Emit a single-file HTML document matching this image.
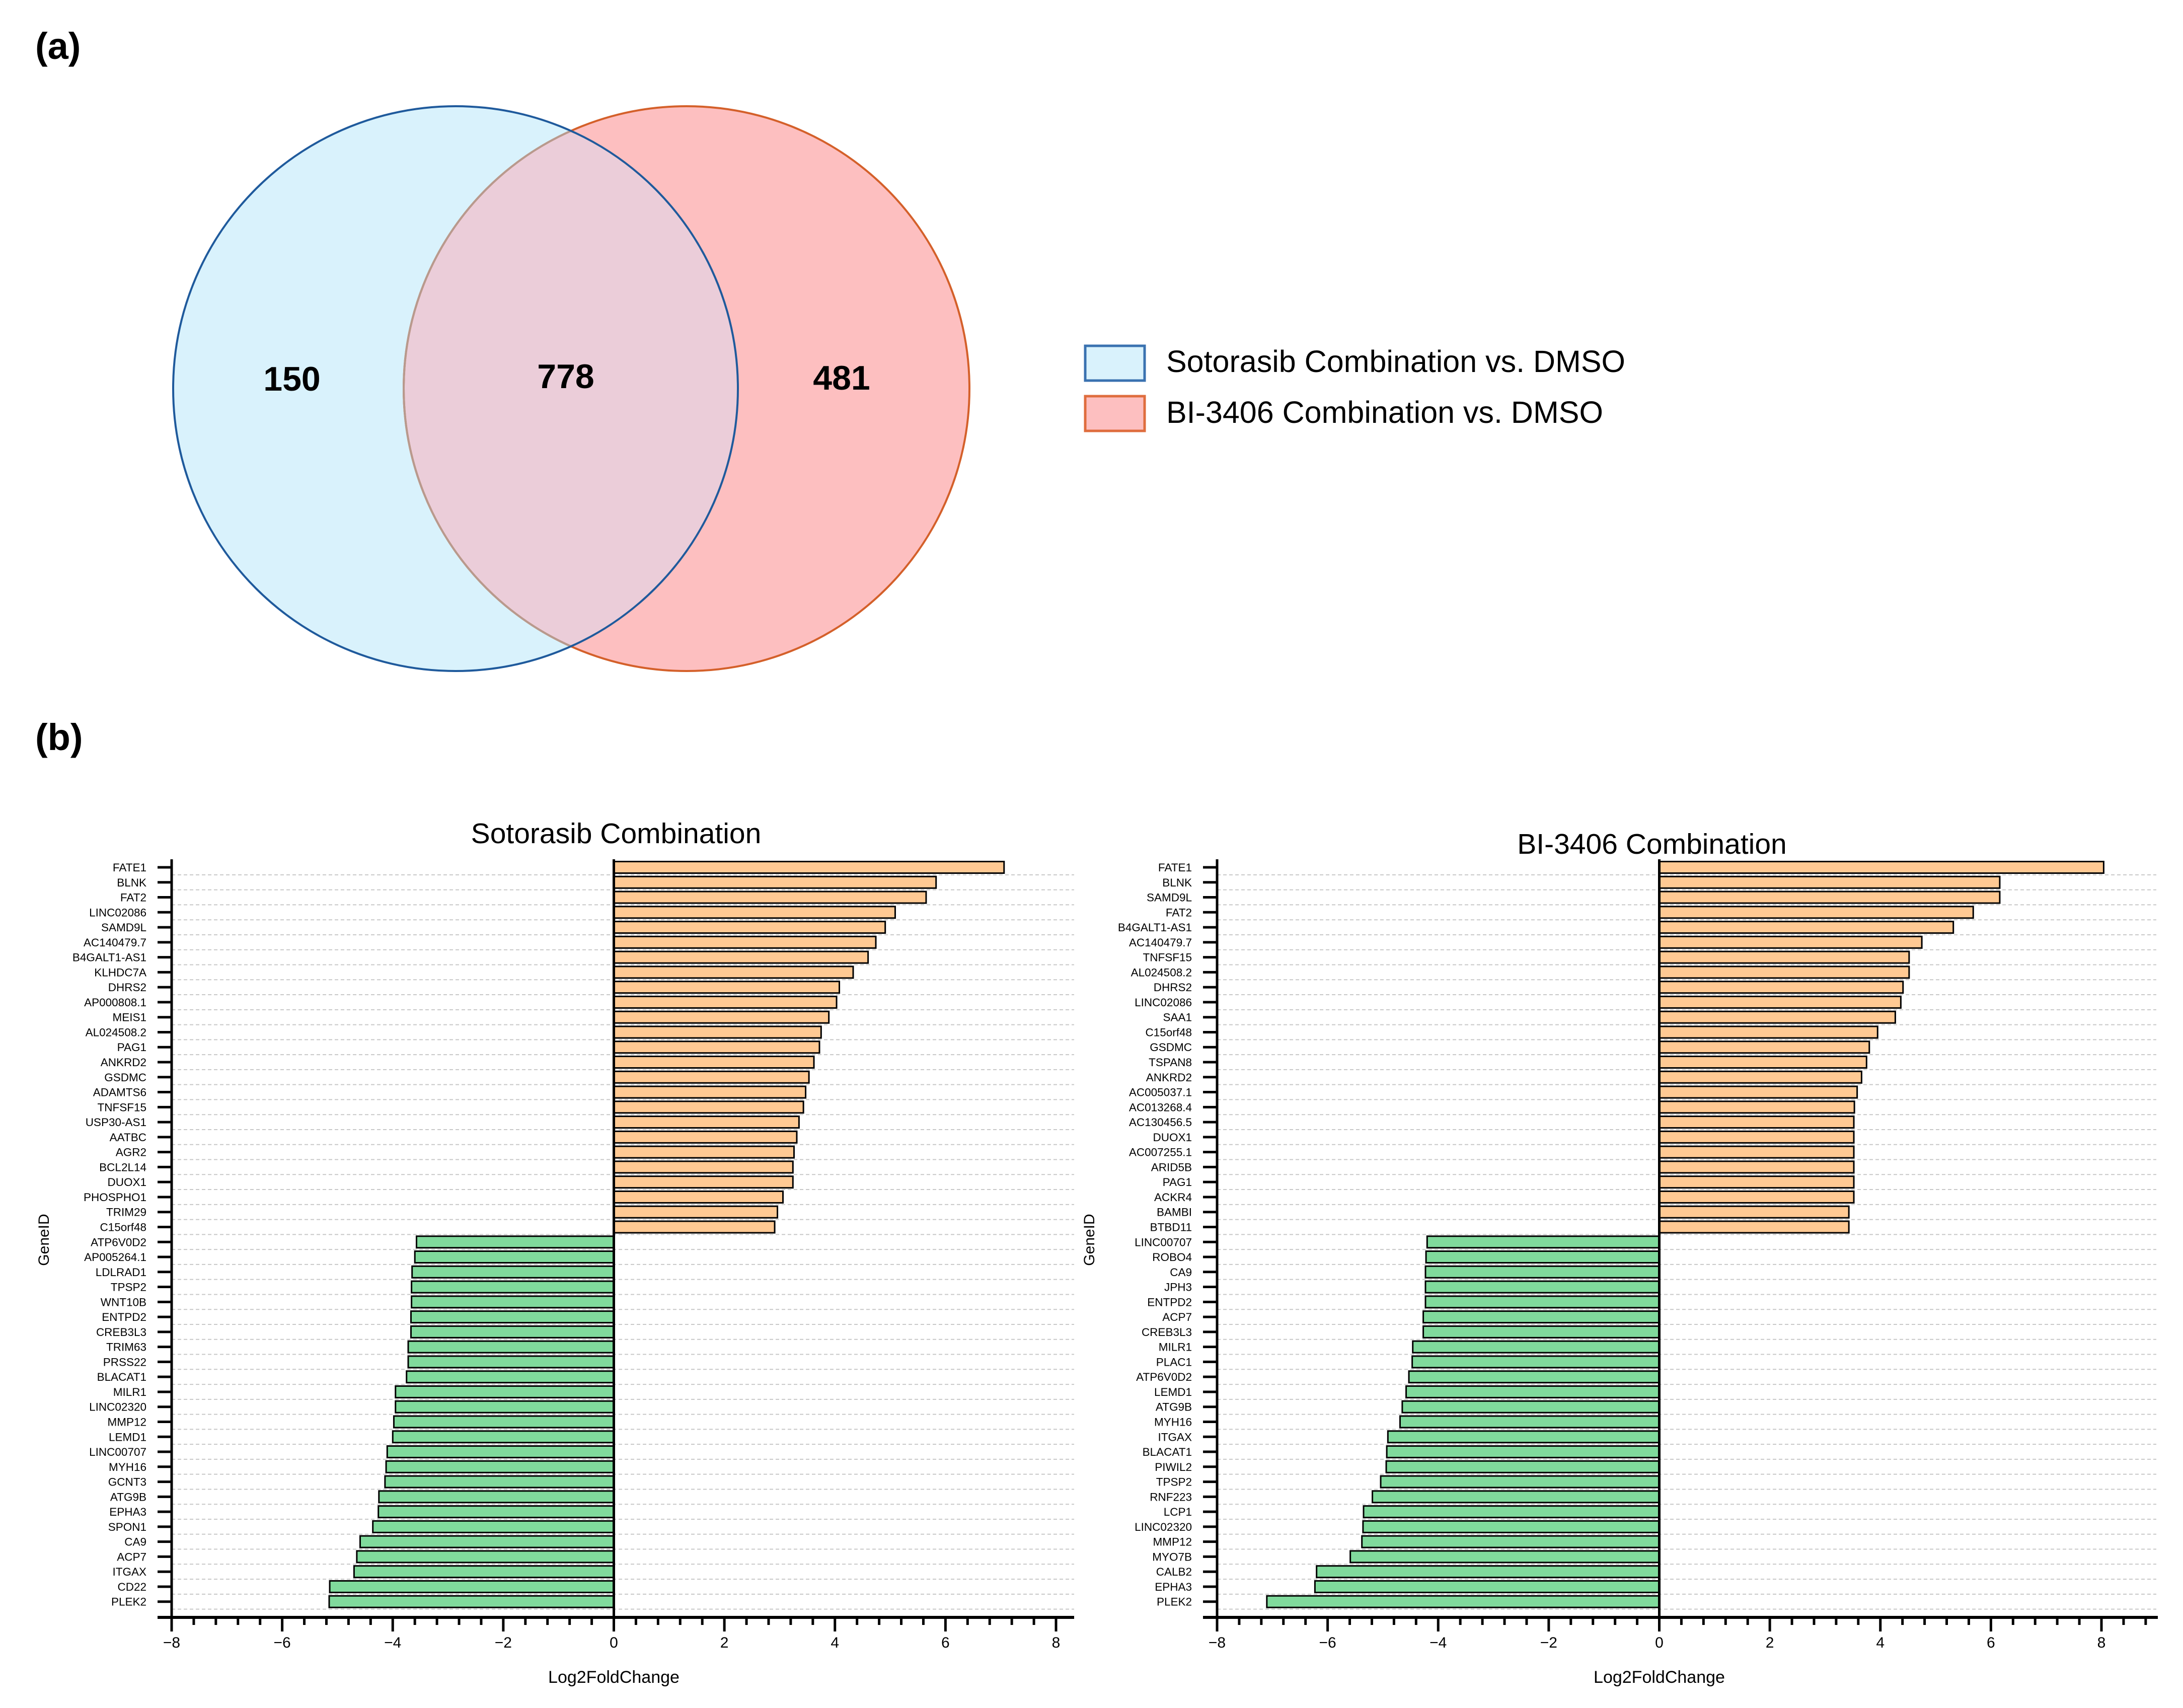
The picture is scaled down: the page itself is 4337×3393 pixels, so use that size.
<!DOCTYPE html>
<html><head><meta charset="utf-8"><style>
html,body{margin:0;padding:0;background:#fff;}
svg{display:block;font-family:"Liberation Sans",sans-serif;}
</style></head><body>
<svg id="fig" width="4337" height="3393" viewBox="0 0 4337 3393" xmlns="http://www.w3.org/2000/svg">
<text x="70" y="117" font-size="74" font-weight="bold">(a)</text>
<text x="70" y="1490" font-size="74" font-weight="bold">(b)</text>
<g>
<ellipse cx="905" cy="772" rx="561" ry="561" fill="#d9f2fc"/>
<ellipse cx="1364" cy="772" rx="562" ry="561" fill="#fdbfc0"/>
<clipPath id="cl"><ellipse cx="905" cy="772" rx="561" ry="561"/></clipPath>
<ellipse cx="1364" cy="772" rx="562" ry="561" fill="#ebcdd9" clip-path="url(#cl)"/>
<ellipse cx="1364" cy="772" rx="562" ry="561" fill="none" stroke="#d4602a" stroke-width="4"/>
<ellipse cx="1364" cy="772" rx="562" ry="561" fill="none" stroke="#b89a8e" stroke-width="4" clip-path="url(#cl)"/>
<ellipse cx="905" cy="772" rx="561" ry="561" fill="none" stroke="#1f5a9c" stroke-width="4"/>
<text x="580" y="776" font-size="68" font-weight="bold" text-anchor="middle">150</text>
<text x="1124" y="771" font-size="68" font-weight="bold" text-anchor="middle">778</text>
<text x="1672" y="774" font-size="68" font-weight="bold" text-anchor="middle">481</text>
</g>
<g>
<rect x="2156" y="687" width="118" height="69" fill="#d9f2fc" stroke="#3a72b0" stroke-width="5"/>
<text x="2317" y="739" font-size="61">Sotorasib Combination vs. DMSO</text>
<rect x="2156" y="787" width="118" height="69" fill="#fdbfc0" stroke="#df6d3e" stroke-width="5"/>
<text x="2317" y="840" font-size="61">BI-3406 Combination vs. DMSO</text>
</g>
<g id="chartL"></g>
<g id="chartR"></g>
</svg>
<script>
const sotoGenes = ["FATE1","BLNK","FAT2","LINC02086","SAMD9L","AC140479.7","B4GALT1-AS1","KLHDC7A","DHRS2","AP000808.1","MEIS1","AL024508.2","PAG1","ANKRD2","GSDMC","ADAMTS6","TNFSF15","USP30-AS1","AATBC","AGR2","BCL2L14","DUOX1","PHOSPHO1","TRIM29","C15orf48","ATP6V0D2","AP005264.1","LDLRAD1","TPSP2","WNT10B","ENTPD2","CREB3L3","TRIM63","PRSS22","BLACAT1","MILR1","LINC02320","MMP12","LEMD1","LINC00707","MYH16","GCNT3","ATG9B","EPHA3","SPON1","CA9","ACP7","ITGAX","CD22","PLEK2"];
const sotoValues = [7.06,5.83,5.65,5.09,4.91,4.74,4.60,4.33,4.08,4.03,3.89,3.75,3.72,3.62,3.53,3.47,3.43,3.35,3.31,3.26,3.24,3.24,3.06,2.96,2.91,-3.57,-3.60,-3.65,-3.66,-3.66,-3.67,-3.67,-3.72,-3.72,-3.75,-3.95,-3.95,-3.98,-4.00,-4.10,-4.12,-4.14,-4.25,-4.26,-4.36,-4.59,-4.65,-4.70,-5.14,-5.15];
const biGenes = ["FATE1","BLNK","SAMD9L","FAT2","B4GALT1-AS1","AC140479.7","TNFSF15","AL024508.2","DHRS2","LINC02086","SAA1","C15orf48","GSDMC","TSPAN8","ANKRD2","AC005037.1","AC013268.4","AC130456.5","DUOX1","AC007255.1","ARID5B","PAG1","ACKR4","BAMBI","BTBD11","LINC00707","ROBO4","CA9","JPH3","ENTPD2","ACP7","CREB3L3","MILR1","PLAC1","ATP6V0D2","LEMD1","ATG9B","MYH16","ITGAX","BLACAT1","PIWIL2","TPSP2","RNF223","LCP1","LINC02320","MMP12","MYO7B","CALB2","EPHA3","PLEK2"];
const biValues = [8.04,6.16,6.16,5.68,5.32,4.75,4.52,4.52,4.41,4.37,4.27,3.95,3.80,3.75,3.66,3.58,3.53,3.52,3.52,3.52,3.52,3.52,3.52,3.43,3.43,-4.20,-4.22,-4.23,-4.23,-4.23,-4.27,-4.27,-4.46,-4.47,-4.53,-4.58,-4.65,-4.69,-4.91,-4.93,-4.94,-5.04,-5.19,-5.35,-5.36,-5.38,-5.59,-6.20,-6.23,-7.10];
const xTicks = [-8,-6,-4,-2,0,2,4,6,8];
const xTickLabels = ["\u22128","\u22126","\u22124","\u22122","0","2","4","6","8"];

const NS="http://www.w3.org/2000/svg";
function mk(parent,tag,attrs,text){const e=document.createElementNS(NS,tag);for(const k in attrs)e.setAttribute(k,attrs[k]);if(text!==undefined)e.textContent=text;parent.appendChild(e);return e;}

function drawChart(gid,cfg,genes,values){
  const g=document.getElementById(gid);
  const sx=v=>cfg.x0+(v+8)*(cfg.x8-cfg.x0)/16;
  const top=1707,bot=3213,firstY=1723,pitch=29.77,bh=23;
  const sy=i=>firstY+i*pitch;
  for(let i=0;i<genes.length;i++){
    const l=mk(g,'line',{x1:cfg.x0,x2:cfg.gridEnd,y1:sy(i)+pitch/2,y2:sy(i)+pitch/2,stroke:'#c8c8c8','stroke-width':2,'stroke-dasharray':'7 5'});
    
    
  }
  for(let i=0;i<genes.length;i++){
    const v=values[i],a=sx(0),b=sx(v);
    const r=mk(g,'rect',{x:Math.min(a,b),y:sy(i)-bh/2,width:Math.abs(b-a),height:bh,fill:v>=0?'#ffc993':'#80da9c',stroke:'#000','stroke-width':3});
    
    
    const t=mk(g,'text',{x:cfg.x0-50,y:sy(i)+8,'font-size':22.5,'text-anchor':'end'},genes[i]);
    
    
    const tk=mk(g,'line',{x1:cfg.x0-28,x2:cfg.x0,y1:sy(i),y2:sy(i),stroke:'#000','stroke-width':5});
    
    
  }
  const z=mk(g,'line',{x1:sx(0),x2:sx(0),y1:top,y2:bot,stroke:'#000','stroke-width':5});
  
  
  const ya=mk(g,'line',{x1:cfg.x0,x2:cfg.x0,y1:top,y2:bot+2,stroke:'#000','stroke-width':5});
  
  
  const xa=mk(g,'line',{x1:cfg.x0-28,x2:cfg.axisEnd,y1:bot,y2:bot,stroke:'#000','stroke-width':6});
  
  
  for(let k=0;k<=cfg.minorCount;k++){
    const v=-8+k*0.4;
    const major=Math.abs(v/2-Math.round(v/2))<1e-6;
    const m=mk(g,'line',{x1:sx(v),x2:sx(v),y1:bot,y2:bot+(major?28:15),stroke:'#000','stroke-width':5});
    
    
  }
  xTicks.forEach((v,i)=>{
    const t=mk(g,'text',{x:sx(v),y:3273,'font-size':30,'text-anchor':'middle'},xTickLabels[i]);
    
    
  });
  const xl=mk(g,'text',{x:sx(0),y:3343,'font-size':34,'text-anchor':'middle'},'Log2FoldChange');
  
  
  const yl=mk(g,'text',{x:cfg.yLabelX,y:2463,'font-size':30,'text-anchor':'middle',transform:'rotate(-90 '+cfg.yLabelX+' 2463)'},'GeneID');
  
  
  const ti=mk(g,'text',{x:cfg.titleX,y:cfg.titleY,'font-size':57,'text-anchor':'middle'},cfg.title);
  
  
}
drawChart('chartL',{x0:341,x8:2098,gridEnd:2134,axisEnd:2134,minorCount:40,yLabelX:97,titleX:1224,titleY:1675,title:'Sotorasib Combination'},sotoGenes,sotoValues);
drawChart('chartR',{x0:2418,x8:4175,gridEnd:4284,axisEnd:4287,minorCount:42,yLabelX:2174,titleX:3282,titleY:1696,title:'BI-3406 Combination'},biGenes,biValues);
</script>
</body></html>
